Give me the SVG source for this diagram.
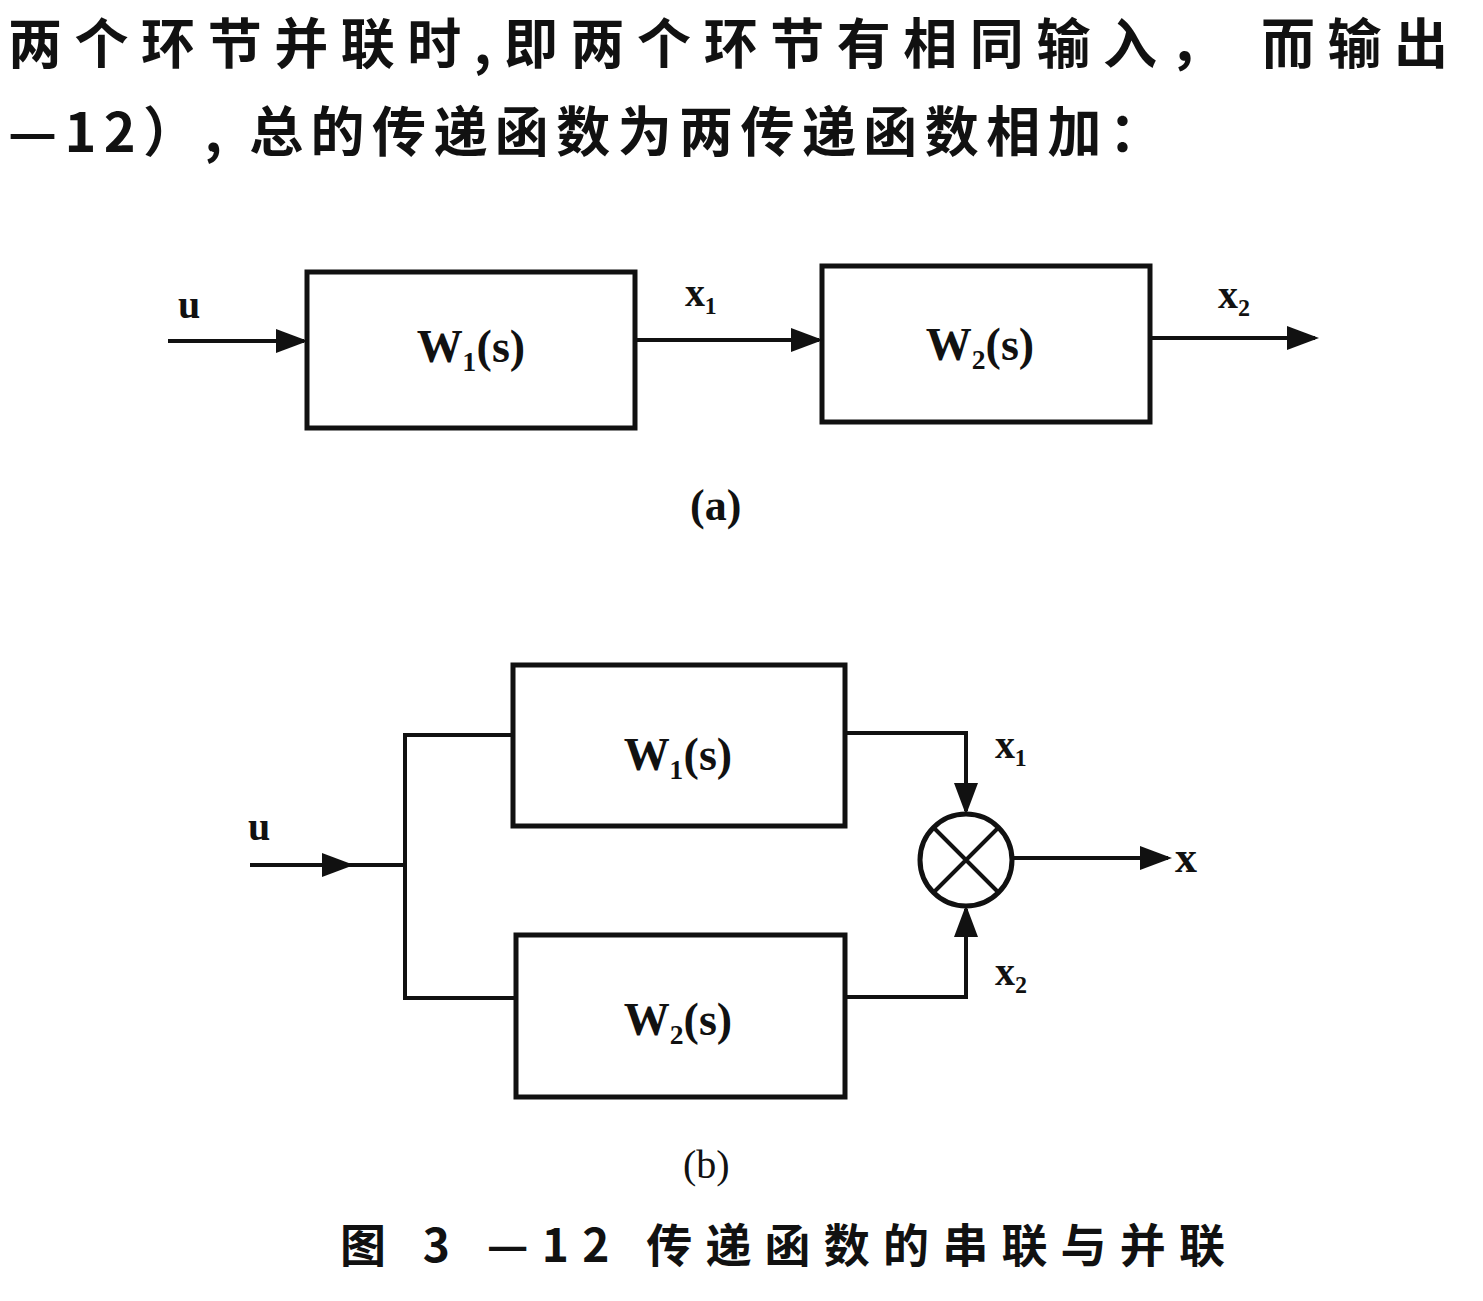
<svg xmlns="http://www.w3.org/2000/svg" width="1483" height="1301" viewBox="0 0 1483 1301">
<defs>
<marker id="ah" markerWidth="8" markerHeight="6" refX="7" refY="3" orient="auto" markerUnits="strokeWidth"><path d="M0,0 L8,3 L0,6 Z" fill="#111"/></marker>
<style>
.b{fill:none;stroke:#111;stroke-width:5}
.l{fill:none;stroke:#111;stroke-width:4}
.t{font-family:"Liberation Serif","Noto Sans CJK SC",serif;font-weight:bold;fill:#111}
.c{font-family:"Noto Sans CJK SC",sans-serif;font-weight:bold;fill:#111}
</style>
</defs>
<rect width="1483" height="1301" fill="#fff"/>
<text class="c" x="8" y="64" font-size="54" textLength="1440" lengthAdjust="spacing">两个环节并联时,即两个环节有相同输入， 而输出</text>
<text class="c" x="8" y="152" font-size="54" textLength="1155" lengthAdjust="spacing">—12）, 总的传递函数为两传递函数相加：</text>
<g id="a1"><rect class="b" x="307" y="272" width="328" height="156"/><text class="t" x="471" y="362" font-size="46" text-anchor="middle">W₁(s)</text></g>
<g id="a2"><rect class="b" x="822" y="266" width="328" height="156"/><text class="t" x="980" y="360" font-size="46" text-anchor="middle">W₂(s)</text></g>
<g id="b1"><rect class="b" x="513" y="665" width="332" height="161"/><text class="t" x="678" y="770" font-size="46" text-anchor="middle">W₁(s)</text></g>
<g id="b2"><rect class="b" x="516" y="935" width="329" height="162"/><text class="t" x="678" y="1035" font-size="46" text-anchor="middle">W₂(s)</text></g>
<g id="sum"><circle class="b" cx="966" cy="860" r="46"/><path class="l" d="M933,827 L999,893 M999,827 L933,893"/></g>
<g id="connectors">
<path class="l" d="M168,341 L304,341" marker-end="url(#ah)"/>
<path class="l" d="M635,340 L819,340" marker-end="url(#ah)"/>
<path class="l" d="M1150,338 L1315,338" marker-end="url(#ah)"/>
<path class="l" d="M250,865 L403,865"/>
<path class="l" d="M250,865 L350,865" marker-end="url(#ah)"/>
<path class="l" d="M513,735 L405,735 L405,998 L516,998"/>
<path class="l" d="M845,733 L966,733 L966,811" marker-end="url(#ah)"/>
<path class="l" d="M845,997 L966,997 L966,909" marker-end="url(#ah)"/>
<path class="l" d="M1012,858 L1168,858" marker-end="url(#ah)"/>
</g>
<g class="t" font-size="40">
<text x="178" y="318">u</text>
<text x="685" y="306">x₁</text>
<text x="1218" y="308">x₂</text>
<text x="690" y="520" font-size="44">(a)</text>
<text x="248" y="840">u</text>
<text x="995" y="758">x₁</text>
<text x="995" y="985">x₂</text>
<text x="1175" y="872" font-size="44">x</text>
<text x="683" y="1178" font-size="40" font-weight="normal">(b)</text>
</g>
<text class="c" x="340" y="1262" font-size="46" font-weight="normal" textLength="885" lengthAdjust="spacing">图 3 —12   传递函数的串联与并联</text>
</svg>
